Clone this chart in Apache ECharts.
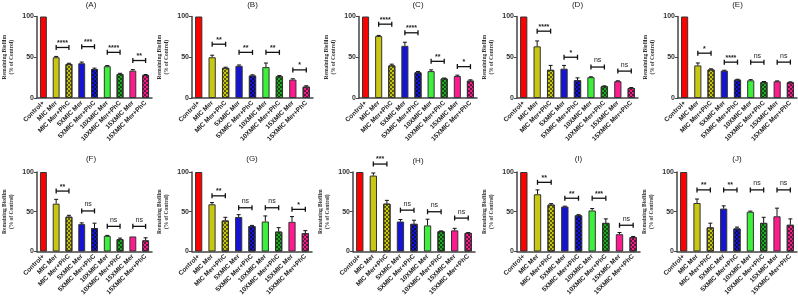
<!DOCTYPE html>
<html>
<head>
<meta charset="utf-8">
<script src="https://cdn.jsdelivr.net/npm/echarts@6/dist/echarts.min.js"></script>
<style>
  html, body { margin: 0; padding: 0; background: #fff; }
  #chart { width: 798px; height: 298px; }
</style>
</head>
<body>
<div id="chart"></div>
<script>
const categories = ['Control+', 'MIC Mer', 'MIC Mer+PhC', '5XMIC Mer', '5XMIC Mer+PhC',
  '10XMIC Mer', '10XMIC Mer+PhC', '15XMIC Mer', '15XMIC Mer+PhC']
const panelTitles = ['(A)', '(B)', '(C)', '(D)', '(E)', '(F)', '(G)', '(H)', '(I)', '(J)']

// mean % remaining biofilm per panel
const meanA = [100, 50, 41.8, 42.6, 35.6, 39, 29.5, 33.6, 28.3]
const meanB = [100, 50, 37, 39.5, 27.6, 37.9, 26.7, 22.6, 14]
const meanC = [100, 76, 40, 64, 31.6, 33, 24, 27, 21.3]
const meanD = [100, 63.4, 34.6, 36, 21.8, 25.5, 14.4, 20.6, 12.3]
const meanE = [100, 40, 35, 33.6, 22.5, 21.7, 19.7, 20.5, 19.3]
const meanF = [100, 60.2, 43.8, 34.4, 29.5, 19.7, 15.6, 18.9, 14]
const meanG = [100, 59.4, 39, 43.4, 32, 37.7, 25, 37.3, 23]
const meanH = [100, 95.5, 60.2, 37.7, 34.8, 32.8, 25.4, 26.6, 23.4]
const meanI = [100, 72, 59, 56.5, 45.5, 51.6, 36, 21.7, 18]
const meanJ = [100, 61, 30.3, 54, 29, 50, 36, 44.3, 33.6]

// upper error (SD)
const errA = [0, 1, 0.8, 1.5, 1, 0.8, 0.8, 1.2, 0.5]
const errB = [0, 2.5, 0.8, 1, 0.8, 5, 0.8, 1, 1]
const errC = [0, 0.8, 1.5, 4.4, 1, 1.5, 0.5, 1, 1]
const errD = [0, 6.6, 5.4, 4, 2.9, 0.5, 0.5, 0.5, 0.5]
const errE = [0, 3, 0.8, 0.5, 0.5, 0.8, 0.5, 0.5, 0.5]
const errF = [0, 5.4, 1.7, 1.6, 6.1, 0.5, 1.2, 0, 3.2]
const errG = [0, 2.1, 4, 2.9, 0.8, 7, 5, 6.6, 3.2]
const errH = [0, 3.3, 4.1, 2.5, 4.5, 7.8, 0.5, 2.5, 0.3]
const errI = [0, 5.5, 1.2, 0.5, 0.8, 2.4, 5, 2.1, 0.8]
const errJ = [0, 5, 5.3, 3.4, 1.7, 0.8, 7, 10.2, 7.4]

// bracket heights (Mer vs Mer+PhC pairs) and their labels
const brkA = [62, 63, 56, 46]
const brkB = [66, 56, 56, 34.5]
const brkC = [90.6, 80, 45, 38.5]
const brkD = [82, 50, 38, 33]
const brkE = [55, 44, 44, 44]
const brkF = [76, 51, 31.6, 31.6]
const brkG = [70, 55, 55, 53]
const brkH = [110, 52, 50, 42]
const brkI = [87, 67, 67, 33]
const brkJ = [77.5, 77.5, 77.5, 77.5]

const sigA = ['****', '***', '****', '**']
const sigB = ['**', '**', '**', '*']
const sigC = ['****', '****', '**', '*']
const sigD = ['****', '*', 'ns', 'ns']
const sigE = ['*', '****', 'ns', 'ns']
const sigF = ['**', 'ns', 'ns', 'ns']
const sigG = ['**', 'ns', 'ns', '*']
const sigH = ['***', 'ns', 'ns', 'ns']
const sigI = ['**', '**', '***', 'ns']
const sigJ = ['**', '**', 'ns', 'ns']

const means = [meanA, meanB, meanC, meanD, meanE, meanF, meanG, meanH, meanI, meanJ]
const errs = [errA, errB, errC, errD, errE, errF, errG, errH, errI, errJ]
const brks = [brkA, brkB, brkC, brkD, brkE, brkF, brkG, brkH, brkI, brkJ]
const sigs = [sigA, sigB, sigC, sigD, sigE, sigF, sigG, sigH, sigI, sigJ]

const barColors = ['#ff0000', '#c8c812', '#c8c812', '#1414d2', '#1414d2',
  '#3cf03c', '#22a822', '#ff1a90', '#f0208a']
const checked = [false, false, true, false, true, false, true, false, true]

// grid boxes [left, top, width]
const grids = [
  [30, 16.5, 122], [192, 16.5, 121], [359, 16.5, 118], [517, 16.5, 121], [678, 16.5, 119],
  [30, 172, 122], [192, 172, 120], [353, 172, 122], [517, 172, 123], [677, 172, 120],
]
const gridH = 81.5

function checkDecal() {
  return {
    symbol: 'rect',
    symbolSize: 1,
    color: 'rgba(0,0,0,0.55)',
    dashArrayX: [[2, 2], [0, 2, 2, 0]],
    dashArrayY: [2, 0],
  }
}

const chart = echarts.init(document.getElementById('chart'))

const option = {
  animation: false,
  backgroundColor: '#fff',
  title: [],
  grid: [],
  xAxis: [],
  yAxis: [],
  series: [],
}

grids.forEach((g, p) => {
  option.grid.push({ left: g[0], top: g[1], width: g[2], height: gridH })
  option.title.push({
    text: panelTitles[p],
    left: g[0] + g[2] / 2 + (p === 7 ? 4 : 0),
    top: p < 5 ? 1 : (p === 7 ? 157 : 155),
    padding: 0,
    textAlign: 'center',
    textStyle: { fontSize: 8, fontWeight: 'normal', color: '#222', fontFamily: 'Liberation Sans, Arial' },
  })
  option.xAxis.push({
    type: 'category',
    gridIndex: p,
    data: categories,
    axisLine: { lineStyle: { color: '#444', width: 1.5 } },
    axisTick: { alignWithLabel: true, length: 3, lineStyle: { color: '#444', width: 1 } },
    axisLabel: {
      interval: 0, rotate: 45, fontSize: 6.5, fontWeight: 'bold', color: '#222', margin: 4,
      fontFamily: 'Liberation Sans, Arial',
    },
  })
  option.yAxis.push({
    type: 'value',
    gridIndex: p,
    min: 0, max: 100, interval: 50,
    name: 'Remaining Biofilm\n(% of Control)',
    nameLocation: 'middle',
    nameGap: 22,
    nameRotate: 90,
    nameTextStyle: {
      fontSize: 5.5, fontWeight: 'bold', color: '#333', lineHeight: 7,
      fontFamily: 'Liberation Serif, Times New Roman',
    },
    axisLine: { show: true, lineStyle: { color: '#444', width: 1.5 } },
    axisTick: { show: true, length: 3, lineStyle: { color: '#444' } },
    splitLine: { show: false },
    axisLabel: { fontSize: 7, fontWeight: 'bold', color: '#333', margin: 3, fontFamily: 'Liberation Sans, Arial' },
  })

  option.series.push({
    type: 'bar',
    xAxisIndex: p,
    yAxisIndex: p,
    barWidth: '54%',
    data: means[p].map((v, i) => {
      const itemStyle = { color: barColors[i], borderColor: '#333', borderWidth: 1 }
      if (checked[i]) itemStyle.decal = checkDecal()
      return { value: v, itemStyle }
    }),
  })

  option.series.push({
    type: 'custom',
    xAxisIndex: p,
    yAxisIndex: p,
    z: 5,
    data: means[p].map((v, i) => [i, v, errs[p][i]]),
    renderItem(params, api) {
      const e = api.value(2)
      if (!e) return
      const a = api.coord([api.value(0), api.value(1)])
      const b = api.coord([api.value(0), api.value(1) + e])
      const st = { stroke: '#111', lineWidth: 1 }
      return {
        type: 'group',
        children: [
          { type: 'line', shape: { x1: a[0], y1: a[1], x2: b[0], y2: b[1] }, style: st },
          { type: 'line', shape: { x1: b[0] - 2, y1: b[1], x2: b[0] + 2, y2: b[1] }, style: st },
        ],
      }
    },
  })

  option.series.push({
    type: 'custom',
    xAxisIndex: p,
    yAxisIndex: p,
    z: 6,
    data: brks[p].map((y, k) => [k, y]),
    renderItem(params, api) {
      const k = api.value(0)
      const y = api.value(1)
      const l = api.coord([2 * k + 1, y])
      const r = api.coord([2 * k + 2, y])
      const st = { stroke: '#111', lineWidth: 1.3 }
      const lab = sigs[p][params.dataIndex]
      return {
        type: 'group',
        children: [
          { type: 'line', shape: { x1: l[0], y1: l[1], x2: r[0], y2: r[1] }, style: st },
          { type: 'line', shape: { x1: l[0], y1: l[1] - 2.5, x2: l[0], y2: l[1] + 2.5 }, style: st },
          { type: 'line', shape: { x1: r[0], y1: r[1] - 2.5, x2: r[0], y2: r[1] + 2.5 }, style: st },
          {
            type: 'text',
            x: (l[0] + r[0]) / 2,
            y: l[1] - (lab === 'ns' ? 3 : 1),
            style: {
              text: lab,
              align: 'center',
              verticalAlign: 'bottom',
              fontSize: 7,
              fontWeight: lab === 'ns' ? 'normal' : 'bold',
              fontFamily: 'Liberation Sans, Arial',
              fill: '#222',
            },
          },
        ],
      }
    },
  })
})

chart.setOption(option)
</script>
</body>
</html>
